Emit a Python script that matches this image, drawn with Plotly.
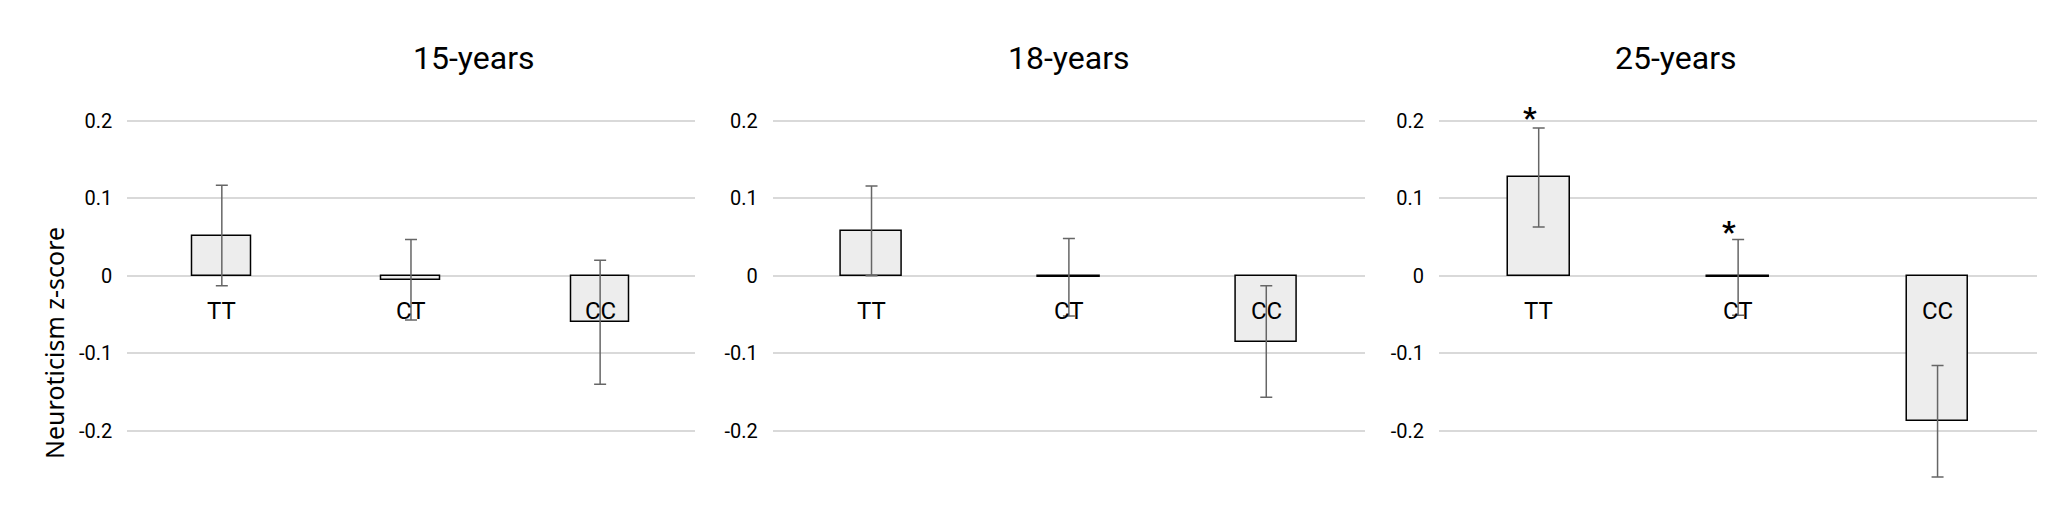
import plotly.graph_objects as go

categories = ["TT", "CT", "CC"]
panels = ["15-years", "18-years", "25-years"]
values = [[0.052, -0.005, -0.060], [0.058, -0.002, -0.085], [0.127, -0.002, -0.188]]
errors = [[0.065, 0.052, 0.080], [0.058, 0.050, 0.072], [0.064, 0.049, 0.072]]
stars = [[], [], [(0, 0.23), (1, 0.082)]]
yticks = [0.2, 0.1, 0, -0.1, -0.2, -0.3]
ticklabels = ["0.2", "0.1", "0", "-0.1", "-0.2", "-0.3"]

FONT = "Liberation Sans Narrow, Roboto, sans-serif"
domains = [(0.058, 0.334), (0.372, 0.660), (0.696, 0.987)]
YR = [-0.3078, 0.2116]
H = 402

def paper_y(v):
    return (v - YR[0]) / (YR[1] - YR[0])

fig = go.Figure()
for i in range(3):
    xa = "x" if i == 0 else f"x{i+1}"
    ya = "y" if i == 0 else f"y{i+1}"
    fig.add_trace(go.Bar(x=categories, y=values[i], xaxis=xa, yaxis=ya, width=0.31,
                         marker=dict(color="#ededed", line=dict(color="black", width=1.5)),
                         error_y=dict(type="data", array=errors[i], color="#666", thickness=1.5, width=6),
                         showlegend=False))
    kx = "xaxis" if i == 0 else f"xaxis{i+1}"
    ky = "yaxis" if i == 0 else f"yaxis{i+1}"
    fig.update_layout(**{
        kx: dict(domain=list(domains[i]), anchor=ya, showticklabels=False, showline=False,
                 zeroline=False, showgrid=False, range=[-0.5, 2.5]),
        ky: dict(anchor=xa, range=YR, tickvals=yticks, ticktext=ticklabels,
                 showgrid=True, gridcolor="#d9d9d9", gridwidth=1.5, zeroline=False,
                 tickfont=dict(size=20, color="black", family=FONT), ticks="", ticklabelstandoff=14),
    })
    for c in categories:
        fig.add_annotation(x=c, y=-0.045, xref=xa, yref=ya, text=c, showarrow=False,
                           font=dict(size=24, color="black", family=FONT))
    w = domains[i][1] - domains[i][0]
    for ci, yv in stars[i]:
        fig.add_annotation(x=domains[i][0] + w * (ci + 0.5) / 3, y=paper_y(yv), xref="paper", yref="paper",
                           text="<b>*</b>", showarrow=False,
                           font=dict(size=30, color="black", family=FONT))
    fig.add_annotation(x=(domains[i][0] + domains[i][1]) / 2, y=(506 - 50) / H, xref="paper", yref="paper",
                       text=panels[i], showarrow=False, yanchor="middle",
                       font=dict(size=32, color="black", family=FONT))

fig.add_annotation(x=46 / 2056, y=(506 - 335) / H, xref="paper", yref="paper", text="Neuroticism z-score",
                   textangle=-90, showarrow=False, xanchor="center",
                   font=dict(size=25, color="black", family="Noto Sans"))

fig.update_layout(width=2056, height=506, margin=dict(l=0, r=0, t=104, b=0),
                  plot_bgcolor="white", paper_bgcolor="white", bargap=0)
fig.write_html("out.html")
